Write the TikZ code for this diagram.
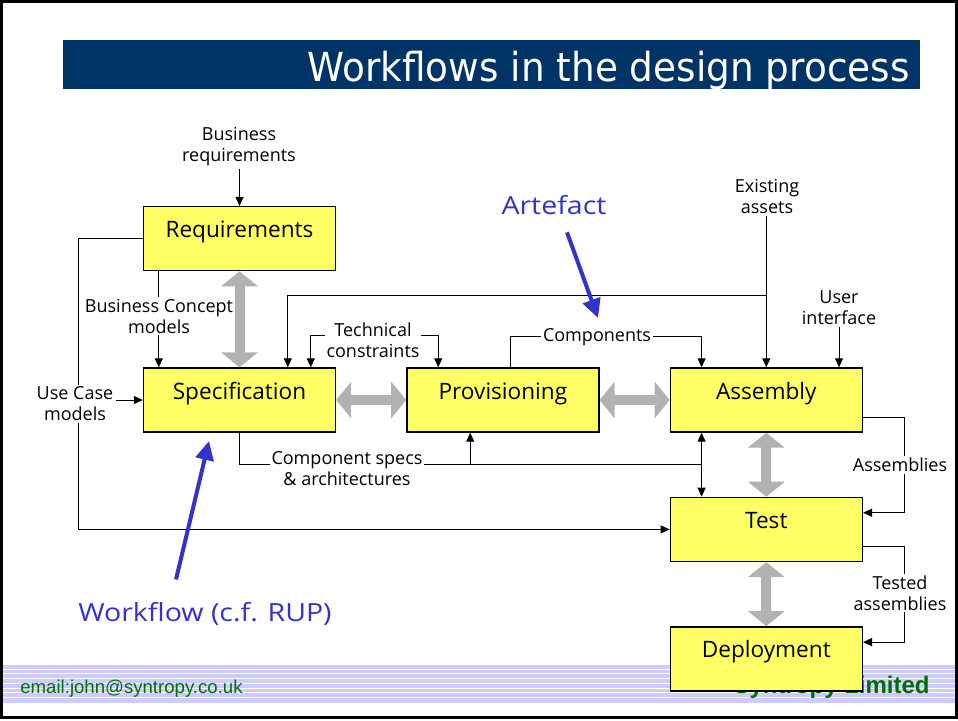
\documentclass[tikz,border=0pt]{standalone}
\usepackage{fontspec}
\setmainfont{Open Sans}
\newfontfamily\headfont[FakeStretch=0.935]{DejaVu Sans}
\newfontfamily\notefont[FakeStretch=1.14]{Open Sans}
\newfontfamily\footfont{Liberation Sans}
\usepackage{tikz}
\usetikzlibrary{positioning, calc, arrows.meta}

\definecolor{barBlue}{RGB}{0,51,102}
\definecolor{boxYellow}{RGB}{255,255,102}
\definecolor{flowGray}{RGB}{178,178,178}
\definecolor{noteBlue}{RGB}{51,51,204}
\definecolor{stripeBlue}{RGB}{204,204,255}
\definecolor{footGreen}{RGB}{0,110,0}

\tikzset{
  >={Triangle[width=4pt,length=4.5pt]},
  workflow/.style={draw=black, line width=0.7pt, fill=boxYellow,
    minimum width=96pt, minimum height=32pt, inner sep=0pt,
    text height=15.5pt, text depth=16.5pt, font=\fontsize{11.3}{13}\selectfont},
  artefact/.style={font=\fontsize{9}{10.5}\selectfont, align=center,
    fill=white, inner sep=1pt},
  link/.style={line width=0.5pt},
  iterate/.style={draw=flowGray, line width=5pt,
    {Triangle[width=18pt,length=7.5pt]}-{Triangle[width=18pt,length=7.5pt]}},
  note/.style={text=noteBlue, font=\notefont\fontsize{12.5}{14}\selectfont},
  pointer/.style={draw=noteBlue, line width=2pt,
    -{Triangle[width=9pt,length=9.5pt]}}
}

\begin{document}
\begin{tikzpicture}[x=0.5pt, y=-0.5pt]

      % SLIDE

      \useasboundingbox (0,0) rectangle (958,720);
      \fill[white] (0,0) rectangle (958,720);
      \fill[barBlue] (63,40) rectangle (920,89);
      \node[anchor=base east, inner sep=0pt, text=white,
        font=\headfont\fontsize{20}{24}\selectfont] (title) at (910,81)
        {Workflows in the design process};

      % FOOTER

      \fill[stripeBlue] (2,665) rectangle (956,703);
      \foreach \y in {669,673.75,...,701}
        \draw[white, line width=0.5pt] (2,\y) -- (956,\y);
      \node[anchor=base west, inner sep=0pt, text=footGreen,
        font=\footfont\fontsize{9.3}{11}\selectfont] (email) at (20,693)
        {email:john@syntropy.co.uk};
      \node[anchor=base east, inner sep=0pt, text=footGreen,
        font=\footfont\bfseries\fontsize{12}{14}\selectfont] (company) at (930,693)
        {Syntropy Limited};

      % WORKFLOWS

      \node[workflow] (spec) at (239.5,400) {Specification};
      \node[workflow, above=48pt of spec] (req) {Requirements};
      \node[workflow, right=35pt of spec] (prov) {Provisioning};
      \node[workflow, right=35pt of prov] (asm) {Assembly};
      \node[workflow, below=32pt of asm] (test) {Test};
      \node[workflow, below=32pt of test] (deploy) {Deployment};

      % ARTEFACT FLOWS

      \node[artefact] (bizReqLabel) at (239,147) {Business\\requirements};
      \draw[link, ->] (bizReqLabel.south -| req.north) -- (req.north);

      \draw[link, ->] (req.west) -- ++(-64,0) |- (test.west);
      \draw[link, ->] ($(req.south west)+(16,0)$) -- ($(spec.north west)+(16,0)$);

      \node[artefact] (assetsLabel) at (767,196) {Existing\\assets};
      \draw[link, ->] (assetsLabel.south -| asm.north) -- (asm.north);
      \coordinate (assetsFork) at ($(asm.north)+(0,-72)$);
      \draw[link, ->] (assetsFork) -| ($(spec.north west)+(145,0)$);

      \draw[link, <->] ($(spec.north west)+(168,0)$)
        |- ($(prov.north west)+(32,-32)$) -- ($(prov.north west)+(32,0)$);
      \draw[link, ->] ($(prov.north west)+(104,0)$)
        |- ($(asm.north west)+(32,-31)$) -- ($(asm.north west)+(32,0)$);

      \node[artefact] (uiLabel) at (839,308) {User\\interface};
      \draw[link, ->] (uiLabel.south) -- (uiLabel.south |- asm.north);

      \draw[link] (spec.south) |- ($(asm.south west)+(32,32)$);
      \coordinate (specsFork) at ($(prov.south west)+(64,32)$);
      \coordinate (asmFork) at ($(asm.south west)+(32,32)$);
      \draw[link, ->] (specsFork) -- ($(prov.south west)+(64,0)$);
      \draw[link, ->] (asmFork) -- ($(asm.south west)+(32,0)$);
      \draw[link, ->] (asmFork) -- ($(test.north west)+(32,0)$);

      \draw[link, ->] ($(asm.south east)+(0,-15)$) -- ++(41,0)
        |- ($(test.north east)+(0,16)$);
      \draw[link, ->] ($(test.south east)+(0,-16)$) -- ++(41,0)
        |- ($(deploy.north east)+(0,16)$);

      % LABELS

      \node[artefact] (useCaseLabel) at (75,404) {Use Case\\models};
      \draw[link, ->] (useCaseLabel.east |- spec.west) -- (spec.west);
      \node[artefact] (bizConceptLabel) at (159,316) {Business Concept\\models};
      \node[artefact] (techLabel) at (373,340) {Technical\\constraints};
      \node[artefact] (compsLabel) at (597,337) {Components};
      \node[artefact] (specsLabel) at (347,469) {Component specs\\\& architectures};
      \node[artefact] (asmsLabel) at (900,465) {Assemblies};
      \node[artefact] (testedLabel) at (900,593) {Tested\\assemblies};

      % ITERATIONS

      \draw[iterate] (req.south) -- (spec.north);
      \draw[iterate] (spec.east) -- (prov.west);
      \draw[iterate] (prov.east) -- (asm.west);
      \draw[iterate] (asm.south) -- (test.north);
      \draw[iterate] (test.south) -- (deploy.north);

      % NOTES

      \node[note, anchor=base] (artefactNote) at (554,214) {Artefact};
      \coordinate (artefactTip) at (598,318);
      \draw[pointer] ($(artefactNote.south)+(13,11)$) -- (artefactTip);

      \node[note] (workflowNote) at (205,614) {Workflow (c.f. RUP)};
      \coordinate (workflowTip) at (209,441);
      \draw[pointer] ($(workflowNote.north)+(-29,-16)$) -- (workflowTip);

      % FRAME

      \draw[line width=1.5pt] (1.5,1.5) rectangle (956.5,717.5);

\end{tikzpicture}
\end{document}
